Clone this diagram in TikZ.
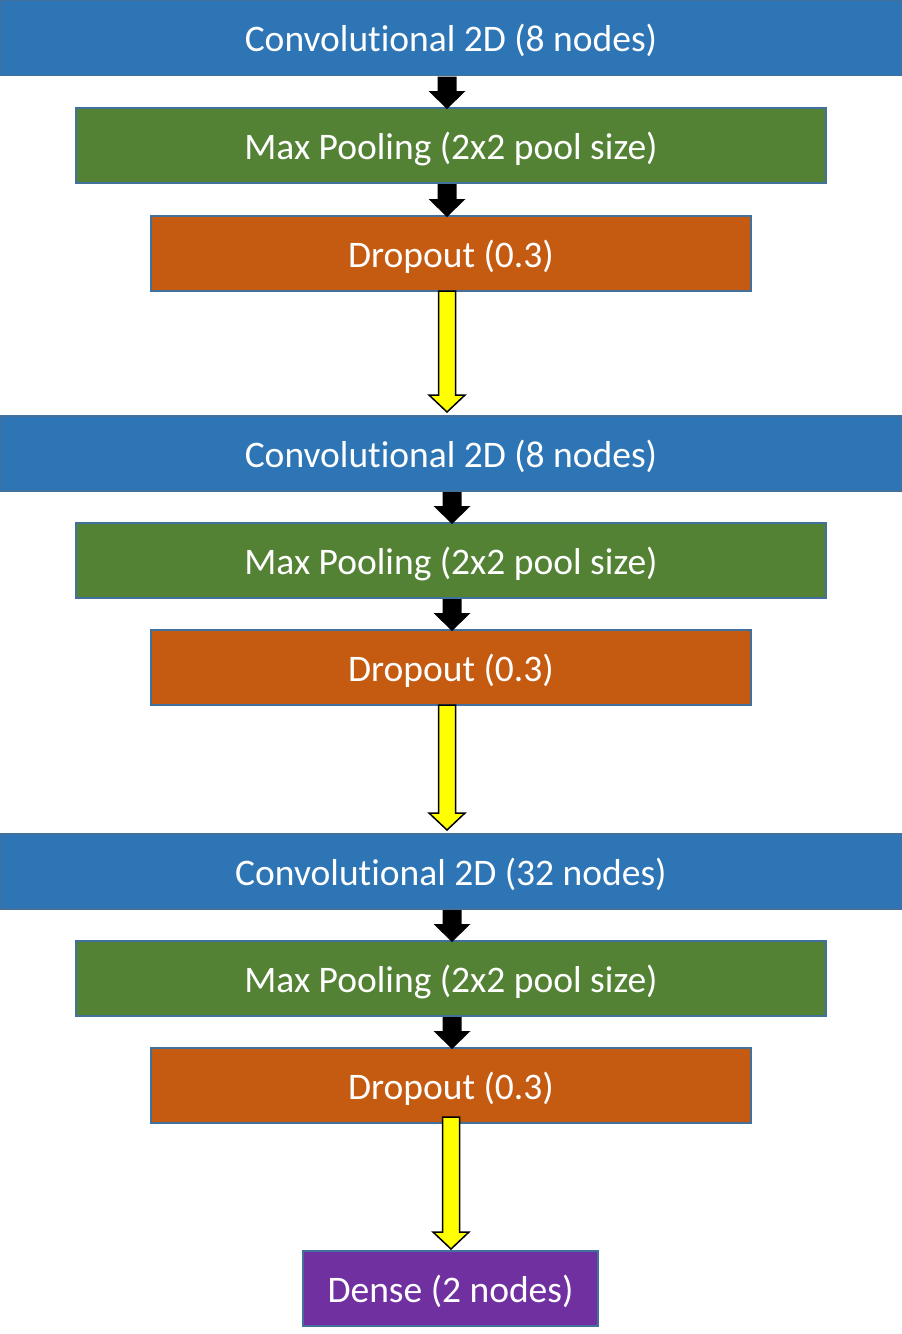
\documentclass[tikz,border=0pt]{standalone}
\usepackage{fontspec}
\setmainfont{Carlito}[Ligatures={NoCommon}]
\usetikzlibrary{calc}
\definecolor{cblue}{HTML}{2E75B6}
\definecolor{cgreen}{HTML}{548235}
\definecolor{corange}{HTML}{C55A11}
\definecolor{cpurple}{HTML}{7030A0}
\definecolor{cedge}{HTML}{41719C}
\definecolor{cyel}{HTML}{FFFF00}
\newcommand\blockarr[6]{%
  \draw[#1] let \p1=#2, \p2=#3 in
    (\x1-#4,\y1) -- (\x1-#4,\y2+#6) -- (\x1-#5,\y2+#6) -- (\x1,\y2)
    -- (\x1+#5,\y2+#6) -- (\x1+#4,\y2+#6) -- (\x1+#4,\y1) -- cycle;}
\tikzset{
  layer/.style={draw=cedge, line width=1.5pt, text=white, inner sep=0pt, outer sep=0pt,
    minimum height=75pt, font=\fontsize{37.5}{42}\selectfont,
    text height=32.5pt, text depth=5.5pt},
  conv/.style={layer, fill=cblue, minimum width=901pt},
  pool/.style={layer, fill=cgreen, minimum width=750pt},
  drop/.style={layer, fill=corange, minimum width=600pt},
  dense/.style={layer, fill=cpurple, minimum width=295pt},
  blackarr/.style={fill=black, draw=none},
  yelarr/.style={fill=cyel, draw=black, line width=1.5pt, line join=miter},
}
\begin{document}
\begin{tikzpicture}[x=1pt,y=-1pt]
\useasboundingbox (0,0) rectangle (902,1334);
\node[conv] (c1) at (451,38) {Convolutional 2D (8 nodes)};
\node[pool] (p1) at (451,145.5) {Max Pooling (2x2 pool size)};
\node[drop] (d1) at (451,253.5) {Dropout (0.3)};
\node[conv] (c2) at (451,453.5) {Convolutional 2D (8 nodes)};
\node[pool] (p2) at (451,560.5) {Max Pooling (2x2 pool size)};
\node[drop] (d2) at (451,667.5) {Dropout (0.3)};
\node[conv] (c3) at (451,871.5) {Convolutional 2D (32 nodes)};
\node[pool] (p3) at (451,978.5) {Max Pooling (2x2 pool size)};
\node[drop] (d3) at (451,1085.5) {Dropout (0.3)};
\node[dense] (de) at (450.5,1288.5) {Dense (2 nodes)};
% black arrows
\blockarr{blackarr}{($(c1.south)+(-4,1)$)}{($(p1.north)+(-4,1)$)}{9.5pt}{18.5pt}{18pt}
\blockarr{blackarr}{($(p1.south)+(-4,1)$)}{($(d1.north)+(-4,1)$)}{9.5pt}{18.5pt}{18pt}
\blockarr{blackarr}{($(c2.south)+(1,1)$)}{($(p2.north)+(1,1)$)}{9.5pt}{18.5pt}{18pt}
\blockarr{blackarr}{($(p2.south)+(1,1)$)}{($(d2.north)+(1,1)$)}{9.5pt}{18.5pt}{18pt}
\blockarr{blackarr}{($(c3.south)+(1,1)$)}{($(p3.north)+(1,1)$)}{9.5pt}{18.5pt}{18pt}
\blockarr{blackarr}{($(p3.south)+(1,1)$)}{($(d3.north)+(1,1)$)}{9.5pt}{18.5pt}{18pt}
% yellow arrows
\blockarr{yelarr}{($(d1.south)+(-4,0)$)}{($(c2.north)+(-4,-4)$)}{8.5pt}{18pt}{17pt}
\blockarr{yelarr}{($(d2.south)+(-4,0)$)}{($(c3.north)+(-4,-4)$)}{8.5pt}{18pt}{17pt}
\blockarr{yelarr}{($(d3.south)+(0,-6)$)}{($(de.north)+(0.5,-2)$)}{8.5pt}{18pt}{17pt}
\end{tikzpicture}
\end{document}
